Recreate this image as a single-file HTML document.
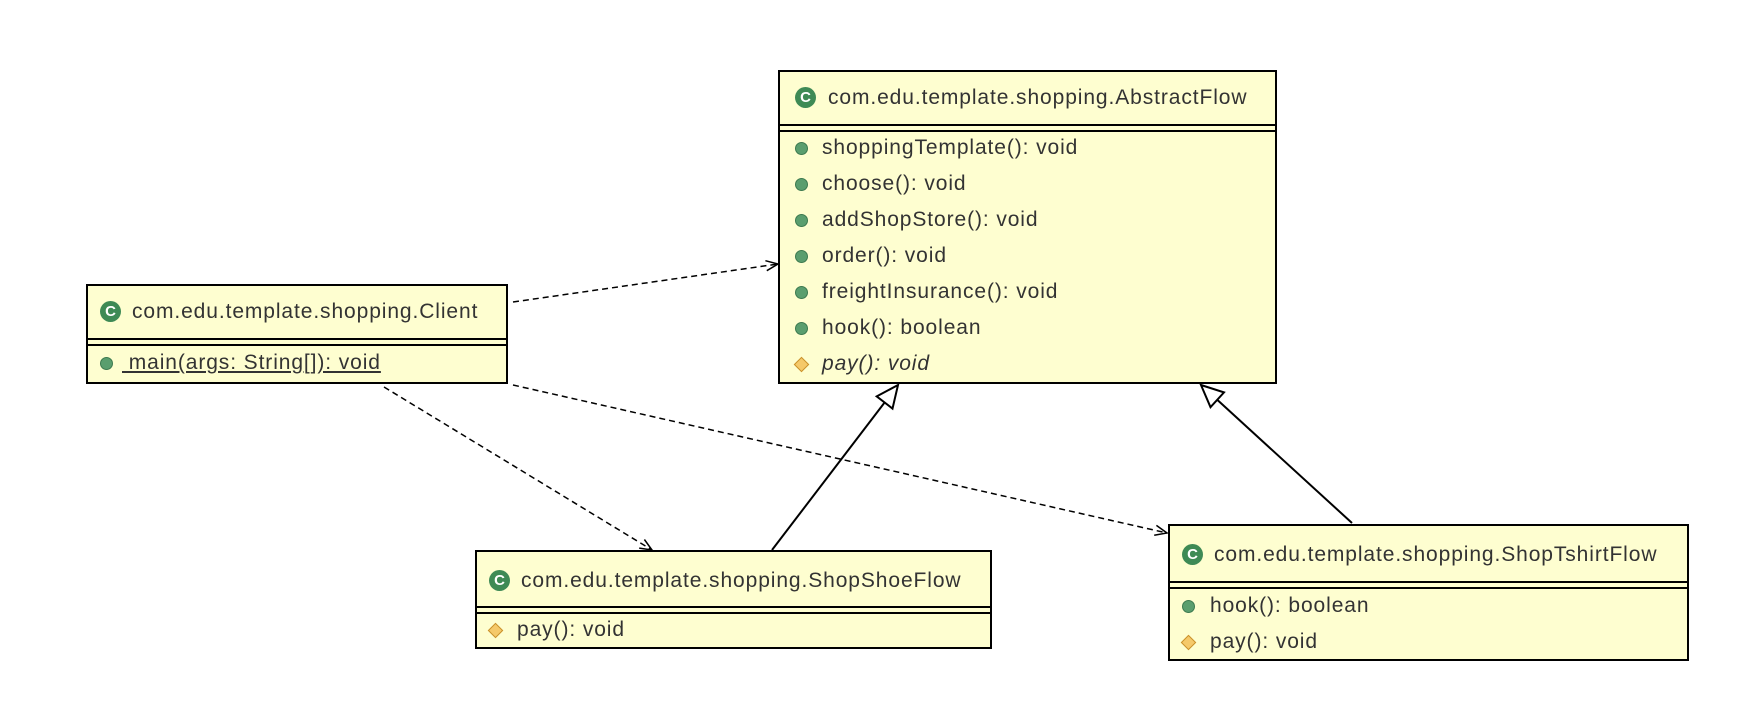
<!DOCTYPE html>
<html><head><meta charset="utf-8"><style>
body{margin:0;width:1760px;height:714px;background:#fff;position:relative;overflow:hidden;font-family:"Liberation Sans","DejaVu Sans",sans-serif;color:#333}
.box{position:absolute;background:#fefed0;border:2px solid #000;box-sizing:border-box}
.t{position:absolute;font-size:21px;letter-spacing:0.9px;white-space:nowrap;line-height:22px}
.sep{position:absolute;left:0;right:0;height:2px;background:#000}
.g{position:absolute;width:13px;height:13px;border-radius:50%;background:#5a9e6e;border:1px solid #3d7a50;box-sizing:border-box}
.C{position:absolute;width:21px;height:21px;border-radius:50%;background:#3e8a55;color:#fff;font-size:15px;font-weight:bold;text-align:center;line-height:21px}
.d{position:absolute;width:11px;height:11px;background:#f5c96a;border:1px solid #c9912c;transform:rotate(45deg);box-sizing:border-box}
</style></head><body>
<svg width="1760" height="714" style="position:absolute;left:0;top:0">
<g stroke="#000" stroke-width="1.5" fill="none">
<line x1="513" y1="302" x2="778" y2="264" stroke-dasharray="6,4"/>
<polyline points="766.8,270.7 778,264 765.4,260.7"/>
<line x1="384" y1="387" x2="652" y2="550" stroke-dasharray="6,4"/>
<polyline points="639.2,548.1 652,550 644.4,539.5"/>
<line x1="513" y1="385" x2="1167" y2="533" stroke-dasharray="6,4"/>
<polyline points="1154.2,535.2 1167,533 1156.4,525.4"/>
<line x1="772" y1="550" x2="884.6" y2="402.5" stroke-width="2"/>
<polygon points="898,385 892.5,408.6 876.7,396.4" fill="#fff" stroke-width="2"/>
<line x1="1352" y1="523" x2="1217.2" y2="399.8" stroke-width="2"/>
<polygon points="1201,385 1224,392.4 1210.5,407.2" fill="#fff" stroke-width="2"/>
</g></svg>

<div class="box" style="left:778px;top:70px;width:499px;height:314px">
<div class="C" style="left:15px;top:15px">C</div>
<div class="t" style="left:48px;top:15px">com.edu.template.shopping.AbstractFlow</div>
<div class="sep" style="top:52px"></div><div class="sep" style="top:58px"></div>
<div class="g" style="left:15px;top:70px"></div><div class="t" style="left:42px;top:65px">shoppingTemplate(): void</div>
<div class="g" style="left:15px;top:106px"></div><div class="t" style="left:42px;top:101px">choose(): void</div>
<div class="g" style="left:15px;top:142px"></div><div class="t" style="left:42px;top:137px">addShopStore(): void</div>
<div class="g" style="left:15px;top:178px"></div><div class="t" style="left:42px;top:173px">order(): void</div>
<div class="g" style="left:15px;top:214px"></div><div class="t" style="left:42px;top:209px">freightInsurance(): void</div>
<div class="g" style="left:15px;top:250px"></div><div class="t" style="left:42px;top:245px">hook(): boolean</div>
<div class="d" style="left:16px;top:287px"></div><div class="t" style="left:42px;top:281px;font-style:italic">pay(): void</div>
</div>

<div class="box" style="left:86px;top:284px;width:422px;height:100px">
<div class="C" style="left:12px;top:15px">C</div>
<div class="t" style="left:44px;top:15px">com.edu.template.shopping.Client</div>
<div class="sep" style="top:52px"></div><div class="sep" style="top:58px"></div>
<div class="g" style="left:12px;top:71px"></div><div class="t" style="left:34px;top:66px;text-decoration:underline">&nbsp;main(args: String[]): void</div>
</div>

<div class="box" style="left:475px;top:550px;width:517px;height:99px">
<div class="C" style="left:12px;top:18px">C</div>
<div class="t" style="left:44px;top:18px">com.edu.template.shopping.ShopShoeFlow</div>
<div class="sep" style="top:54px"></div><div class="sep" style="top:60px"></div>
<div class="d" style="left:13px;top:73px"></div><div class="t" style="left:40px;top:67px">pay(): void</div>
</div>

<div class="box" style="left:1168px;top:524px;width:521px;height:137px">
<div class="C" style="left:12px;top:18px">C</div>
<div class="t" style="left:44px;top:18px">com.edu.template.shopping.ShopTshirtFlow</div>
<div class="sep" style="top:55px"></div><div class="sep" style="top:61px"></div>
<div class="g" style="left:12px;top:74px"></div><div class="t" style="left:40px;top:69px">hook(): boolean</div>
<div class="d" style="left:13px;top:111px"></div><div class="t" style="left:40px;top:105px">pay(): void</div>
</div>
</body></html>
